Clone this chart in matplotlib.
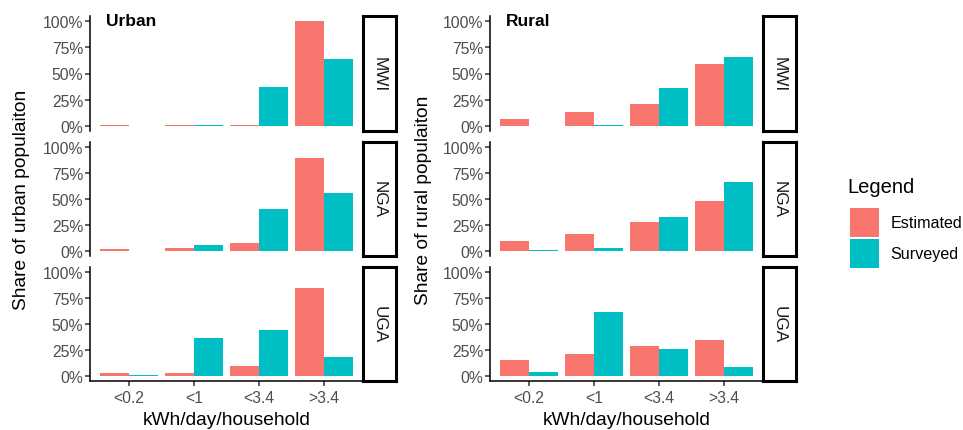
import matplotlib.pyplot as plt
from matplotlib.patches import Patch
import numpy as np

plt.rcParams['font.family'] = ['Liberation Sans', 'DejaVu Sans']

# data (shares)
categories = ['<0.2', '<1', '<3.4', '>3.4']
countries = ['MWI', 'NGA', 'UGA']

urban_estimated = [[0.005, 0.005, 0.005, 1.00],
                   [0.016, 0.026, 0.074, 0.89],
                   [0.032, 0.032, 0.100, 0.85]]
urban_surveyed = [[0.0, 0.006, 0.37, 0.64],
                  [0.003, 0.055, 0.40, 0.56],
                  [0.006, 0.37, 0.446, 0.186]]
rural_estimated = [[0.068, 0.135, 0.213, 0.59],
                   [0.094, 0.161, 0.277, 0.48],
                   [0.157, 0.215, 0.292, 0.35]]
rural_surveyed = [[0.0, 0.006, 0.358, 0.658],
                  [0.006, 0.026, 0.326, 0.665],
                  [0.042, 0.619, 0.263, 0.09]]

est_col = '#F8766D'
sur_col = '#00BFC4'

W, H = 963, 431
fig = plt.figure(figsize=(W / 100, H / 100), dpi=100)


def box(x0, y0, x1, y1):
    return [x0 / W, 1 - y1 / H, (x1 - x0) / W, (y1 - y0) / H]


rows = [(16.75, 132.25), (142.8, 257.2), (267.8, 382.2)]
sides = [
    (90, 363, 'Urban', 'Share of urban populaiton', urban_estimated, urban_surveyed, 22),
    (490, 763, 'Rural', 'Share of rural populaiton', rural_estimated, rural_surveyed, 423),
]
x = np.arange(1, len(categories) + 1)

for (px0, px1, name, ylab, est, sur, ylx) in sides:
    for i, (top, bot) in enumerate(rows):
        ax = fig.add_axes(box(px0, top, px1, bot))
        ax.bar(x - 0.45, est[i], width=0.45, align='edge', color=est_col)
        ax.bar(x, sur[i], width=0.45, align='edge', color=sur_col)
        ax.set_xlim(0.4, 4.6)
        ax.set_ylim(-0.05, 1.05)
        ax.spines['top'].set_visible(False)
        ax.spines['right'].set_visible(False)
        ax.spines['left'].set_linewidth(1.1)
        ax.set_yticks([0, 0.25, 0.5, 0.75, 1.0])
        ax.set_yticklabels(['0%', '25%', '50%', '75%', '100%'])
        ax.tick_params(axis='both', colors='#333333', labelcolor='#4D4D4D',
                       labelsize=11.3, length=3.5, width=1.1, pad=1.5)
        if i == len(rows) - 1:
            ax.spines['bottom'].set_linewidth(1.1)
            ax.set_xticks(x)
            ax.set_xticklabels(categories)
            ax.tick_params(axis='x', pad=3)
        else:
            ax.spines['bottom'].set_visible(False)
            ax.set_xticks([])
        if i == 0:
            ax.text(0.058, 0.955, name, transform=ax.transAxes, fontsize=12.5,
                    fontweight='bold', va='center', ha='left')

        # facet strip on the right
        sax = fig.add_axes(box(px1, top, px1 + 33, bot))
        sax.set_xticks([])
        sax.set_yticks([])
        for sp in sax.spines.values():
            sp.set_linewidth(2.2)
            sp.set_color('black')
        sax.text(0.5, 0.5, countries[i], rotation=270, ha='center', va='center',
                 fontsize=12.3, color='#1A1A1A', transform=sax.transAxes)

    fig.text(ylx / W, 1 - 200 / H, ylab, rotation=90, ha='center', va='center',
             fontsize=13.8)
    fig.text((px0 + px1) / 2 / W, 1 - 421 / H, 'kWh/day/household', ha='center',
             va='center', fontsize=13.8)

# legend
fig.text(847 / W, 1 - 188 / H, 'Legend', ha='left', va='center', fontsize=14.5)
handles = [Patch(facecolor=est_col, label='Estimated'),
           Patch(facecolor=sur_col, label='Surveyed')]
leg = fig.legend(handles=handles, loc='upper left',
                 bbox_to_anchor=(850 / W, 1 - 209 / H), frameon=False,
                 fontsize=11.6, handlelength=1.8, handleheight=2.4,
                 handletextpad=0.7, labelspacing=0.1, borderaxespad=0,
                 borderpad=0)

fig.savefig('out.png', dpi=100)
